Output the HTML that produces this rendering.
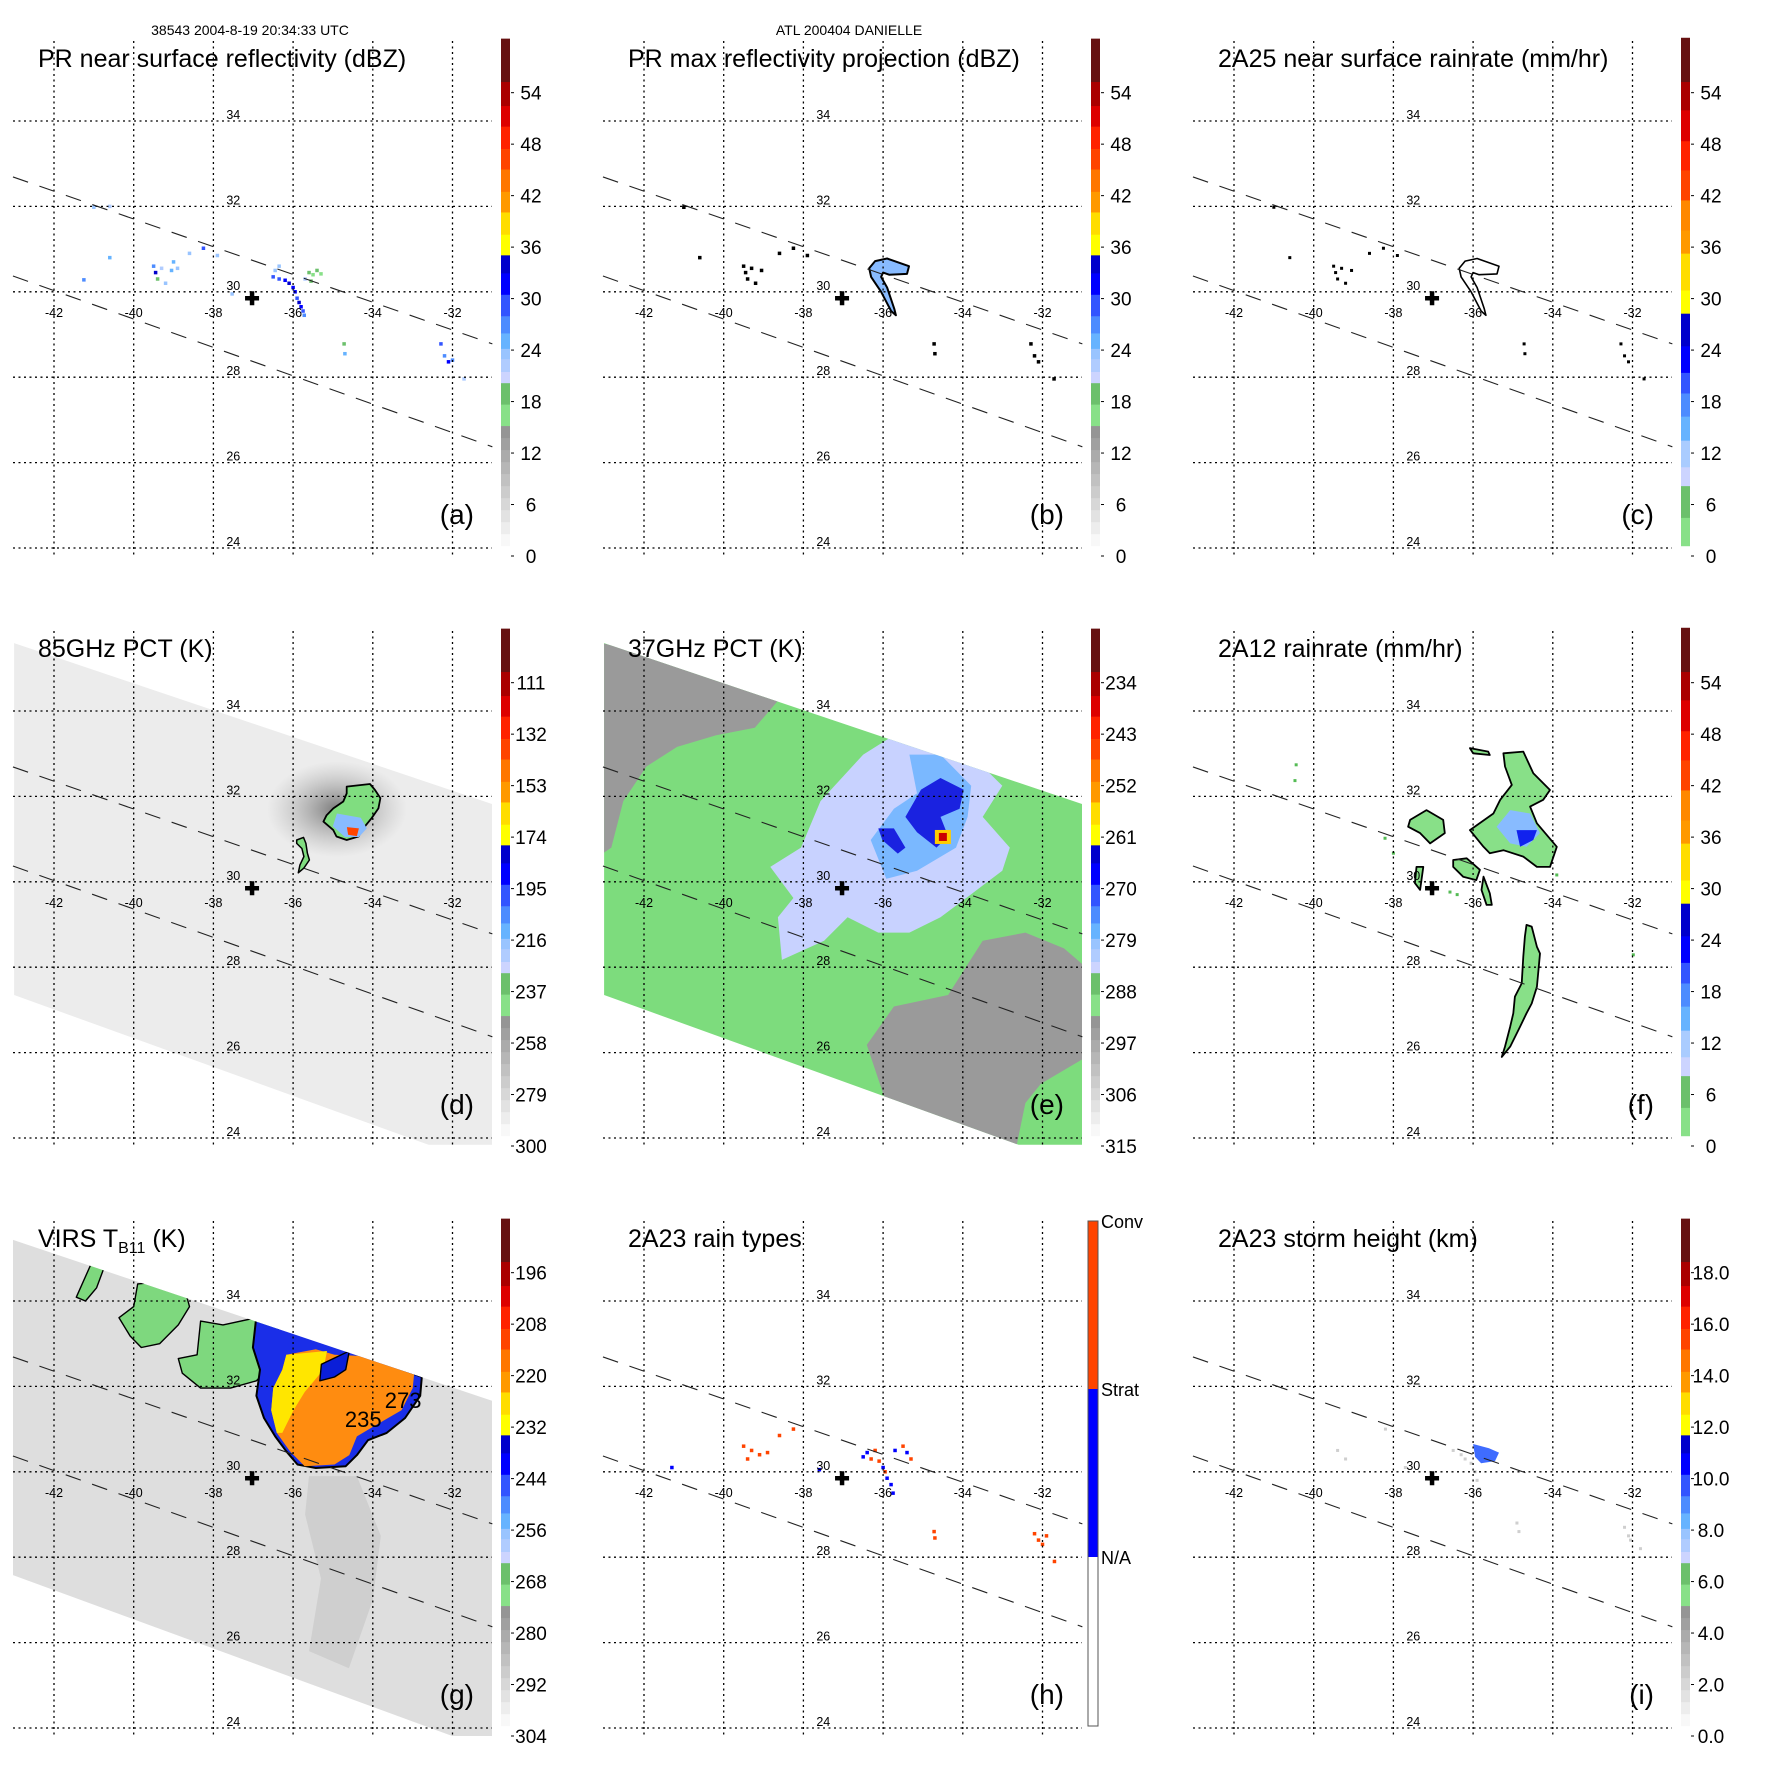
<!DOCTYPE html>
<html><head><meta charset="utf-8"><style>
html,body{margin:0;padding:0;background:#fff}
svg{display:block;font-family:"Liberation Sans",Arial,sans-serif}
</style></head><body>
<svg id="fig" xmlns="http://www.w3.org/2000/svg" width="1771" height="1771" viewBox="0 0 1771 1771">
<rect width="1771" height="1771" fill="#fff"/>
<text x="250" y="35" font-size="14" text-anchor="middle">38543 2004-8-19 20:34:33 UTC</text>
<text x="849" y="35" font-size="14" text-anchor="middle">ATL 200404 DANIELLE</text>
</svg>
<script>
// ---- grid / axes data ----
const lonTicks=[-42,-40,-38,-36,-34,-32];
const latTicks=[24,26,28,30,32,34];
const stormCenter=[-37.03,29.85];
const swathUpper=[[-43.03,32.69],[-31.0,28.78]];
const swathLower=[[-43.03,30.37],[-31.0,26.37]];
const swathDE=[[-43.0,35.59],[-31.0,31.82],[-31.0,23.84],[-32.6,23.84],[-43.0,27.35]];
const swathG=[[-43.03,35.43],[-31.0,31.66],[-31.0,23.81],[-32.0,23.81],[-43.03,27.58]];
// ---- colorbar tick labels ----
const cbPos=[0,6,12,18,24,30,36,42,48,54];
const labelsDBZ=['0','6','12','18','24','30','36','42','48','54'];
const labels85=['300','279','258','237','216','195','174','153','132','111'];
const labels37=['315','306','297','288','279','270','261','252','243','234'];
const labelsVIRS=['304','292','280','268','256','244','232','220','208','196'];
const labelsHeight=['0.0','2.0','4.0','6.0','8.0','10.0','12.0','14.0','16.0','18.0'];
const labelsRainType=['Conv','Strat','N/A'];
// ---- panel a: PR near-surface reflectivity points [lon,lat,dBZ] ----
const prLon=[-36.5,-36.35,-36.2,-36.1,-36.0,-35.95,-35.9,-35.85,-35.8,-35.75,-35.72,-36.35,-36.45,-35.6,-35.5,-35.4,-35.3,-35.7,-35.55,-39.5,-39.45,-39.4,-39.3,-39.2,-39.05,-38.9,-38.25,-40.6,-41.25,-41.0,-40.6,-37.53,-34.72,-34.7,-32.29,-32.2,-32.1,-32.0,-31.71,-37.9,-38.6,-39.0];
const prLat=[30.35,30.3,30.27,30.2,30.1,30.0,29.85,29.75,29.65,29.55,29.45,30.6,30.5,30.45,30.4,30.5,30.42,30.3,30.25,30.6,30.45,30.3,30.55,30.2,30.5,30.55,31.02,30.8,30.28,31.98,32.0,29.95,28.78,28.55,28.78,28.5,28.36,28.4,27.96,30.85,30.9,30.7];
const prDBZ=[28,30,31,33,32,31,30,33,32,30,26,24,23,18,17,19,16,22,18,26,33,18,22,24,25,23,30,25,27,24,22,24,18,25,29,27,32,26,22,24,23,25];
// ---- panel b: max reflectivity comma [lon,lat] ----
const combLon=[-36.35,-36.2,-35.9,-35.35,-35.4,-35.85,-36.0,-36.05,-35.9,-35.72,-35.68,-35.8,-36.05,-36.3];
const combLat=[30.55,30.72,30.78,30.6,30.42,30.4,30.45,30.35,30.1,29.6,29.45,29.55,30.0,30.35];
const echoLon=[-39.5,-39.4,-39.3,-39.2,-39.05,-38.25,-38.6,-34.72,-34.7,-32.29,-32.2,-32.1,-31.71,-40.6,-41.0,-37.9,-39.45];
const echoLat=[30.6,30.3,30.55,30.2,30.5,31.02,30.9,28.78,28.55,28.78,28.5,28.36,27.96,30.8,31.98,30.85,30.45];
// ---- panel d: 85 GHz PCT features ----
const d85Lon=[-34.655,-34.07,-33.945,-33.81,-33.86,-34.03,-34.24,-34.36,-34.655,-34.91,-34.99,-35.24,-35.16,-34.99,-34.74,-34.655];
const d85Lat=[32.23,32.29,32.15,31.96,31.72,31.49,31.25,31.06,30.98,31.06,31.21,31.41,31.56,31.72,31.88,32.07];
const d85TailLon=[-35.91,-35.74,-35.68,-35.64,-35.59,-35.73,-35.87,-35.83,-35.73,-35.78,-35.91];
const d85TailLat=[30.98,31.04,30.90,30.67,30.51,30.32,30.21,30.39,30.59,30.78,30.90];
const d85CoreLon=[-34.9,-34.3,-34.15,-34.35,-34.7,-35.0];
const d85CoreLat=[31.6,31.5,31.25,31.05,31.05,31.3];
const d85HotLon=[-34.65,-34.35,-34.4,-34.62];
const d85HotLat=[31.28,31.25,31.07,31.1];
// ---- panel e: 37 GHz PCT features ----
const e37GrayALon=[-43.1,-41.46,-40.58,-39.71,-38.64,-39.22,-40.19,-41.17,-41.94,-42.52,-42.82,-43.1];
const e37GrayALat=[35.6,35.24,34.88,34.65,34.24,33.61,33.43,33.16,32.70,31.89,30.80,30.62];
const e37GrayBLon=[-36.41,-35.73,-34.37,-33.50,-32.43,-31.46,-30.9,-30.9,-32.04,-32.43,-32.67,-33.98,-35.92];
const e37GrayBLat=[26.18,27.08,27.35,28.62,28.81,28.44,27.99,25.9,25.27,24.82,23.73,23.9,24.82];
const e37LightLon=[-38.83,-38.06,-37.57,-36.50,-35.73,-34.56,-33.40,-33.01,-33.50,-32.82,-33.01,-33.79,-34.56,-35.34,-36.12,-36.89,-37.48,-38.54,-38.64,-38.25];
const e37LightLat=[30.35,30.80,31.89,32.98,33.43,33.16,32.61,32.25,31.52,30.80,30.26,29.71,29.17,28.81,28.81,29.17,28.62,28.17,29.17,29.62];
const e37MidLon=[-35.34,-34.56,-33.79,-33.88,-34.17,-35.15,-35.92,-36.31,-35.73,-35.15];
const e37MidLat=[32.98,32.98,32.25,31.52,30.80,30.26,30.07,30.98,31.71,32.07];
const e37DarkLon=[-35.05,-34.56,-33.98,-34.08,-34.56,-34.37,-34.66,-35.15,-35.44];
const e37DarkLat=[32.16,32.43,32.16,31.71,31.52,31.07,30.80,31.16,31.52];
const e37Dark2Lon=[-36.12,-35.73,-35.44,-35.63,-36.02];
const e37Dark2Lat=[31.25,31.25,30.80,30.66,30.98];
const e37Hot=[-34.5,31.05];
// ---- panel f: 2A12 rain rate contours ----
const fBigLon=[-35.24,-34.74,-34.49,-34.07,-34.24,-34.57,-34.40,-33.90,-34.07,-34.40,-34.74,-35.24,-35.58,-35.74,-36.08,-35.49,-35.32,-35.03,-35.20];
const fBigLat=[33.01,33.05,32.54,32.15,31.92,31.76,31.37,30.82,30.35,30.35,30.59,30.74,30.67,30.82,31.21,31.60,31.92,32.27,32.70];
const fCoreLon=[-35.07,-34.57,-34.32,-34.66,-35.07,-35.41];
const fCoreLat=[31.68,31.60,31.14,30.82,30.90,31.29];
const fDarkLon=[-34.91,-34.40,-34.49,-34.82];
const fDarkLat=[31.21,31.21,30.98,30.82];
const fBandLon=[-34.66,-34.53,-34.40,-34.32,-34.40,-34.53,-34.66,-34.82,-35.07,-35.28,-35.20,-35.07,-34.99,-34.95,-34.78,-34.74,-34.70];
const fBandLat=[28.99,28.95,28.48,28.32,27.54,27.15,26.92,26.61,26.14,25.90,26.14,26.61,26.92,27.31,27.62,28.25,28.72];
const fLeftLon=[-37.58,-37.17,-36.75,-36.71,-37.08,-37.33,-37.63];
const fLeftLat=[31.45,31.68,31.45,31.14,30.90,31.14,31.29];
const fMidLon=[-36.50,-36.16,-35.83,-35.92,-36.25,-36.50];
const fMidLat=[30.51,30.55,30.28,30.04,30.12,30.35];
const fTopLon=[-36.08,-35.62,-35.58,-36.0];
const fTopLat=[33.13,33.05,32.97,33.01];
const fSmallLon=[-37.42,-37.25,-37.33,-37.46];
const fSmallLat=[30.35,30.35,29.81,29.97];
const fTailLon=[-35.74,-35.58,-35.53,-35.66,-35.79];
const fTailLat=[30.12,29.73,29.46,29.46,29.81];
const fDotLon=[-40.44,-40.47,-38.21,-38.0,-31.98,-33.9,-36.58,-36.4];
const fDotLat=[32.74,32.37,31.02,30.67,28.29,30.16,29.76,29.7];
// ---- panel g: VIRS TB11 features ----
const gOuterLon=[-36.92,-36.45,-32.77,-32.81,-33.19,-33.65,-34.12,-34.40,-34.68,-35.43,-35.89,-36.17,-36.45,-36.73,-36.92,-36.83,-37.01];
const gOuterLat=[33.65,33.52,32.22,31.78,31.26,30.91,30.74,30.39,30.13,30.09,30.17,30.48,30.83,31.26,31.78,32.39,32.91];
const gInnerLon=[-36.17,-35.43,-34.96,-34.03,-32.96,-33.00,-33.28,-33.93,-34.40,-34.59,-34.96,-35.71,-36.08,-36.41,-36.55,-36.50,-36.27];
const gInnerLat=[32.74,32.87,32.74,32.70,32.31,31.96,31.44,31.09,30.83,30.39,30.17,30.13,30.48,30.91,31.44,31.96,32.39];
const gYellowLon=[-36.17,-35.15,-35.24,-35.71,-35.99,-36.27,-36.41,-36.55,-36.50,-36.27];
const gYellowLat=[32.74,32.83,32.39,31.87,31.44,30.91,30.91,31.44,31.96,32.39];
const gHoleLon=[-35.29,-34.59,-34.68,-34.96,-35.33];
const gHoleLat=[32.52,32.83,32.39,32.22,32.13];
const gG1Lon=[-41.07,-40.74,-40.93,-41.21,-41.44];
const gG1Lat=[34.87,34.79,34.31,34.00,34.09];
const gG2Lon=[-39.90,-39.44,-38.69,-38.60,-38.88,-39.35,-39.81,-40.09,-40.37,-40.00];
const gG2Lat=[34.40,34.44,34.18,33.87,33.44,33.00,32.91,33.18,33.61,33.87];
const gG3Lon=[-38.32,-37.76,-36.92,-36.36,-36.45,-36.92,-37.57,-38.32,-38.78,-38.88,-38.41];
const gG3Lat=[33.53,33.44,33.61,33.44,32.57,32.13,31.96,31.96,32.31,32.65,32.74];
const gBandLon=[-35.6,-34.4,-33.8,-34.0,-34.6,-35.6,-35.3,-35.7];
const gBandLat=[29.9,29.9,28.5,27.0,25.4,25.8,27.5,29.0];
// ---- panel h: rain type points [lon,lat,type 1=strat 2=conv] ----
const hLon=[-36.5,-36.3,-36.1,-36.0,-35.95,-35.9,-35.8,-35.75,-36.2,-35.7,-35.5,-35.4,-39.5,-39.4,-39.3,-39.1,-38.9,-38.25,-38.6,-41.3,-37.6,-34.72,-34.7,-32.2,-32.1,-32.0,-31.9,-31.7,-36.4,-35.3];
const hLat=[30.35,30.3,30.25,30.1,30.0,29.85,29.7,29.5,30.5,30.5,30.6,30.45,30.6,30.3,30.5,30.4,30.45,31.0,30.85,30.1,30.05,28.6,28.45,28.55,28.4,28.3,28.5,27.9,30.45,30.3];
const hType=[1,2,2,1,2,1,1,1,2,1,2,1,2,2,2,2,2,2,2,1,1,2,2,2,2,2,2,2,1,2];
// ---- panel i: storm height ----
const iPatchLon=[-36.0,-35.6,-35.35,-35.45,-35.8,-35.95];
const iPatchLat=[30.65,30.55,30.45,30.25,30.2,30.35];
const iGrayLon=[-36.3,-36.2,-36.05,-35.95,-35.9,-35.85,-37.7,-39.4,-39.2,-34.9,-34.85,-32.2,-32.1,-32.05,-31.8,-38.2,-36.5];
const iGrayLat=[30.4,30.3,30.2,30.0,29.8,29.6,30.1,30.5,30.3,28.8,28.6,28.7,28.5,28.4,28.2,31.0,30.5];

// ---- colormaps (styling) ----
const CM_A=(function(){const s=[];for(let i=0;i<10;i++){const c=Math.round(248-i*11);s.push([1.2+i*1.4,2.6+i*1.4,'rgb('+c+','+c+','+c+')']);}
 return s.concat([[15.2,17.7,'#88e088'],[17.7,20.2,'#6cc06c'],[20.2,21.5,'#ccd4ff'],[21.5,23,'#b0ccff'],[23,24.2,'#99c4ff'],[24.2,26,'#66b3ff'],[26,28,'#4d8cff'],[28,30.5,'#3355ff'],[30.5,33,'#0000ff'],[33,35.1,'#0000cc'],[35.1,37.5,'#ffff00'],[37.5,40.1,'#ffdd00'],[40.1,42.5,'#ff9900'],[42.5,45.1,'#ff7700'],[45.1,47.5,'#ff4400'],[47.5,50.1,'#ff2200'],[50.1,52.5,'#dd0000'],[52.5,55.3,'#aa0000'],[55.3,60.3,'#661111']]);})();
const CM_C=[[1.2,4.5,'#88e088'],[4.5,8.2,'#6cc06c'],[8.2,10.4,'#ccd4ff'],[10.4,13.5,'#aaccff'],[13.5,16.3,'#66b3ff'],[16.3,19,'#4d8cff'],[19,21.4,'#3355ff'],[21.4,24.5,'#0000ff'],[24.5,28.3,'#0000cc'],[28.3,31,'#ffff00'],[31,35.3,'#ffdd00'],[35.3,38,'#ff9900'],[38,41.5,'#ff8800'],[41.5,45,'#ff4400'],[45,48.4,'#ff2200'],[48.4,52,'#dd0000'],[52,55.3,'#aa0000'],[55.3,60.4,'#661111']];
function cmColor(cm,v){for(const s of cm){if(v>=s[0]&&v<s[1])return s[2];}return v<cm[0][0]?cm[0][2]:cm[cm.length-1][2];}

const NS='http://www.w3.org/2000/svg';
const svg=document.getElementById('fig');
function el(tag,attrs,parent){const e=document.createElementNS(NS,tag);for(const k in attrs)e.setAttribute(k,attrs[k]);parent.appendChild(e);return e;}
function X(lon){return 54+(lon+42)*39.85;}
function Y(lat){return 548-(lat-24)*42.7;}
function cbY(v){return 556-8.58*v;}
function ptsStr(lons,lats){return lons.map((l,i)=>X(l).toFixed(1)+','+Y(lats[i]).toFixed(1)).join(' ');}
function ptsPairs(arr){return arr.map(p=>X(p[0]).toFixed(1)+','+Y(p[1]).toFixed(1)).join(' ');}
function poly(parent,lons,lats,fill,stroke,name,sw){const p=el('polygon',{points:ptsStr(lons,lats),fill:fill,stroke:stroke||'none','stroke-width':sw||1.6,'stroke-linejoin':'round'},parent);


return p;}
function dots(parent,lons,lats,colorFn,name,size){const g=el('g',{},parent);


const s=size||3;lons.forEach((l,i)=>{const r=el('rect',{x:X(l)-s/2,y:Y(lats[i])-s/2,width:s,height:s,fill:colorFn(i)},g);

});return g;}

const panels=[
 {col:0,row:0,id:'a',title:'PR near surface reflectivity (dBZ)',cm:CM_A,labels:labelsDBZ},
 {col:1,row:0,id:'b',title:'PR max reflectivity projection (dBZ)',cm:CM_A,labels:labelsDBZ},
 {col:2,row:0,id:'c',title:'2A25 near surface rainrate (mm/hr)',cm:CM_C,labels:labelsDBZ},
 {col:0,row:1,id:'d',title:'85GHz PCT (K)',cm:CM_A,labels:labels85},
 {col:1,row:1,id:'e',title:'37GHz PCT (K)',cm:CM_A,labels:labels37},
 {col:2,row:1,id:'f',title:'2A12 rainrate (mm/hr)',cm:CM_C,labels:labelsDBZ},
 {col:0,row:2,id:'g',title:'VIRS',cm:CM_A,labels:labelsVIRS},
 {col:1,row:2,id:'h',title:'2A23 rain types',cm:null,labels:labelsRainType},
 {col:2,row:2,id:'i',title:'2A23 storm height (km)',cm:CM_A,labels:labelsHeight}
];

panels.forEach(P=>{
 const g=el('g',{transform:'translate('+(P.col*590)+','+(P.row*590)+')'},svg);
 
 
 const cid='clip'+P.id;
 const cp=el('clipPath',{id:cid},g);el('rect',{x:13,y:41,width:479,height:515},cp);
 const data=el('g',{'clip-path':'url(#'+cid+')'},g);
 
 
 drawData(P.id,data);
 const grid=el('g',{stroke:'#000','stroke-width':1.3,'stroke-dasharray':'2,3.5',fill:'none'},g);
 
 
 lonTicks.forEach(l=>{el('line',{x1:X(l),y1:41,x2:X(l),y2:556},grid);});
 latTicks.forEach(l=>{el('line',{x1:13,y1:Y(l),x2:492,y2:Y(l)},grid);});
 [swathUpper,swathLower].forEach((s,k)=>{const ln=el('line',{x1:X(s[0][0]),y1:Y(s[0][1]),x2:X(s[1][0]),y2:Y(s[1][1]),stroke:'#222','stroke-width':1.1,'stroke-dasharray':'16,12'},g);
  
  });
 lonTicks.forEach(l=>{const t=el('text',{x:X(l),y:Y(30)+25,'font-size':12.5,'text-anchor':'middle'},g);t.textContent=String(l);
  
  });
 latTicks.forEach(l=>{const t=el('text',{x:X(-37.5),y:Y(l)-2,'font-size':12.5,'text-anchor':'middle'},g);t.textContent=String(l);
  
  });
 const cx=X(stormCenter[0]),cy=Y(stormCenter[1]);
 const cr=el('path',{d:'M'+(cx-7)+' '+cy+'H'+(cx+7)+'M'+cx+' '+(cy-7)+'V'+(cy+7),stroke:'#000','stroke-width':4.5},g);
 
 
 const tt=el('text',{x:38,y:67,'font-size':25},g);
 
 
 if(P.id==='g'){tt.textContent='VIRS T';const sub=el('tspan',{'font-size':16,dy:6},tt);sub.textContent='B11';const r=el('tspan',{dy:-6},tt);r.textContent=' (K)';}
 else tt.textContent=P.title;
 const lt=el('text',{x:474,y:524,'font-size':28,'text-anchor':'end'},g);lt.textContent='('+P.id+')';
 
 
 const cb=el('g',{},g);
 
 
 if(P.cm){
  P.cm.forEach(s=>{el('rect',{x:501,y:cbY(s[1]),width:9,height:cbY(s[0])-cbY(s[1])+0.5,fill:s[2]},cb);});
  P.labels.forEach((lab,i)=>{const v=cbPos[i];
   el('line',{x1:511,y1:cbY(v),x2:514,y2:cbY(v),stroke:'#000','stroke-width':1},cb);
   const t=el('text',{x:531,y:cbY(v)+7,'font-size':19,'text-anchor':'middle'},cb);t.textContent=lab;
   
   });
 } else {
  const segs=[['#ff4400',41,209],['#0000ff',209,377],['#ffffff',377,546]];
  segs.forEach(s=>el('rect',{x:498,y:s[1],width:10,height:s[2]-s[1],fill:s[0]},cb));
  el('rect',{x:498,y:41,width:10,height:505,fill:'none',stroke:'#555','stroke-width':1},cb);
  [41,209,377].forEach((yy,i)=>{const t=el('text',{x:511,y:yy+7,'font-size':18},cb);t.textContent=P.labels[i];
   
   });
 }
});

function drawData(id,g){
 if(id==='a'){
  dots(g,prLon,prLat,i=>cmColor(CM_A,prDBZ[i]),'reflectivity-points',3.5);
 }
 if(id==='b'||id==='c'){
  if(id==='b')poly(g,combLon,combLat,'#88bbff','#000','max-reflectivity-echo',2);
  else poly(g,combLon,combLat,'none','#000','rain-echo-outline',1.6);
  dots(g,echoLon,echoLat,()=>'#000','echo-contours',id==='b'?3.5:3);
 }
 if(id==='d'){
  const gr=el('radialGradient',{id:'haze'},g);
  el('stop',{offset:'0','stop-color':'#555','stop-opacity':0.75},gr);el('stop',{offset:'1','stop-color':'#999','stop-opacity':0},gr);
  poly(g,swathDE.map(p=>p[0]),swathDE.map(p=>p[1]),'#ececec',null,'85ghz-swath');
  const hz=el('ellipse',{cx:X(-34.9),cy:Y(31.7),rx:70,ry:48,fill:'url(#haze)'},g);
  
  
  poly(g,d85Lon,d85Lat,'#80dd80','#000','85ghz-storm-core',1.8);
  poly(g,d85CoreLon,d85CoreLat,'#88bbff',null,'85ghz-blue-area');
  poly(g,d85HotLon,d85HotLat,'#ff4400',null,'85ghz-hot-area');
  poly(g,d85TailLon,d85TailLat,'#80dd80','#000','85ghz-band',1.5);
 }
 if(id==='e'){
  poly(g,swathDE.map(p=>p[0]),swathDE.map(p=>p[1]),'#7ddc7d',null,'37ghz-swath');
  const cp=el('clipPath',{id:'swE'},g);el('polygon',{points:ptsPairs(swathDE)},cp);
  const inner=el('g',{'clip-path':'url(#swE)'},g);
  poly(inner,e37GrayALon,e37GrayALat,'#9a9a9a',null,'37ghz-warm-area-west');
  poly(inner,e37GrayBLon,e37GrayBLat,'#9a9a9a',null,'37ghz-warm-area-south');
  poly(inner,e37LightLon,e37LightLat,'#c8d2ff',null,'37ghz-light-rain');
  poly(inner,e37MidLon,e37MidLat,'#7ab8ff',null,'37ghz-moderate-rain');
  poly(inner,e37DarkLon,e37DarkLat,'#1a22e0',null,'37ghz-heavy-rain');
  poly(inner,e37Dark2Lon,e37Dark2Lat,'#1a22e0',null,'37ghz-heavy-rain-2');
  const h=el('rect',{x:X(e37Hot[0])-8,y:Y(e37Hot[1])-7,width:16,height:14,fill:'#ffcc00'},inner);
  
  
  el('rect',{x:X(e37Hot[0])-4,y:Y(e37Hot[1])-4,width:8,height:8,fill:'#cc0000'},inner);
 }
 if(id==='f'){
  [[fBigLon,fBigLat],[fBandLon,fBandLat],[fLeftLon,fLeftLat],[fMidLon,fMidLat],[fTopLon,fTopLat],[fSmallLon,fSmallLat],[fTailLon,fTailLat]].forEach((s,k)=>poly(g,s[0],s[1],'#88e088','#000','rain-area-'+k,1.8));
  poly(g,fCoreLon,fCoreLat,'#88bbff',null,'rain-core');
  poly(g,fDarkLon,fDarkLat,'#1122ee',null,'rain-heavy-core');
  dots(g,fDotLon,fDotLat,()=>'#55bb55','isolated-rain',3);
 }
 if(id==='g'){
  poly(g,swathG.map(p=>p[0]),swathG.map(p=>p[1]),'#dedede',null,'virs-swath');
  const cp=el('clipPath',{id:'swG'},g);el('polygon',{points:ptsPairs(swathG)},cp);
  const inner=el('g',{'clip-path':'url(#swG)'},g);
  poly(inner,gBandLon,gBandLat,'#cfcfcf',null,'cloud-band');
  [[gG1Lon,gG1Lat],[gG2Lon,gG2Lat],[gG3Lon,gG3Lat]].forEach((s,k)=>poly(inner,s[0],s[1],'#7ed87e','#000','cloud-cluster-'+k,1.4));
  poly(inner,gOuterLon,gOuterLat,'#1a2ee8','#000','cold-cloud-edge',2);
  poly(inner,gInnerLon,gInnerLat,'#ff8c10',null,'cold-cloud-top');
  poly(inner,gYellowLon,gYellowLat,'#ffe600',null,'cold-cloud-yellow');
  poly(inner,gHoleLon,gHoleLat,'#0a1ed8','#000','cold-cloud-hole',1.4);
  const l1=el('text',{x:X(-34.7),y:Y(31.05),'font-size':22},inner);l1.textContent='235';
  
  
  const l2=el('text',{x:X(-33.7),y:Y(31.5),'font-size':22},inner);l2.textContent='273';
  
  
 }
 if(id==='h'){
  dots(g,hLon,hLat,i=>hType[i]===2?'#ff4400':'#0000ff','rain-type-points',3.5);
 }
 if(id==='i'){
  dots(g,iGrayLon,iGrayLat,()=>'#cfcfcf','storm-height-low',3);
  poly(g,iPatchLon,iPatchLat,'#3f6cff',null,'storm-height-high');
 }
}
</script>
</body></html>
